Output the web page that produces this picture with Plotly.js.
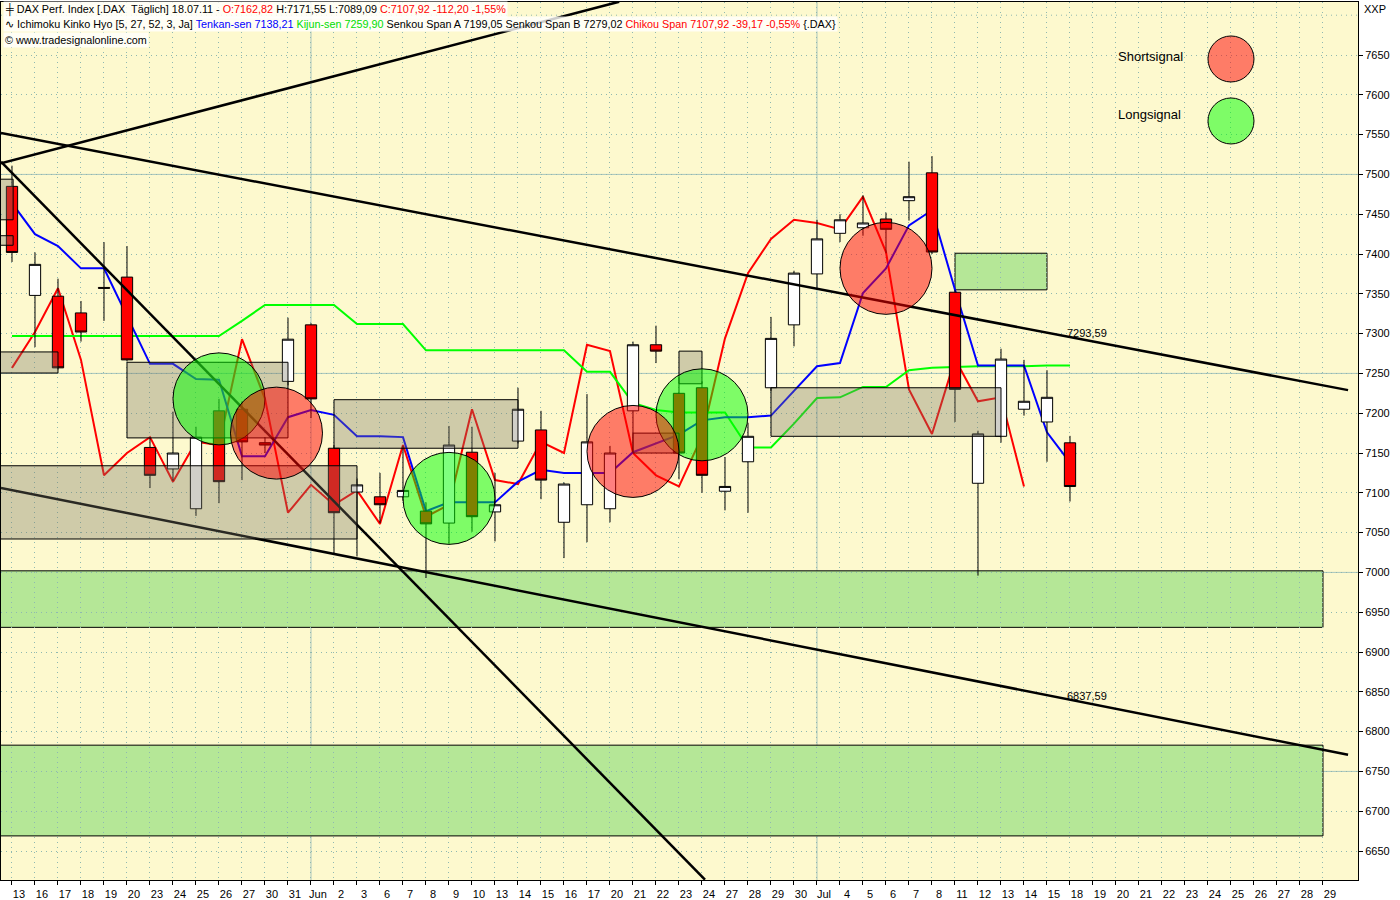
<!DOCTYPE html>
<html><head><meta charset="utf-8">
<script src="https://cdn.plot.ly/plotly-3.0.1.min.js"></script>
<style>html,body{margin:0;padding:0;background:#fff}#chart{width:1400px;height:900px}</style>
</head><body><div id="chart"></div>
<script>
// ---------- DATA ----------
const dayLabels = ['13','16','17','18','19','20','23','24','25','26','27','30','31',
  'Jun','2','3','6','7','8','9','10','13','14','15','16','17','20','21','22','23','24','27','28','29','30',
  'Jul','4','5','6','7','8','11','12','13','14','15','18','19','20','21','22','23','24','25','26','27','28','29'];
const priceTicks = [6650,6700,6750,6800,6850,6900,6950,7000,7050,7100,7150,7200,7250,7300,7350,7400,7450,7500,7550,7600,7650];

const opens  = [7485,7348,7347,7326,7358,7371,7157,7130,7080,7203,7205,7163,7240,7311,7156,7101,7095,7095,7077,7062,
                7151,7076,7165,7179,7063,7085,7080,7203,7286,7225,7232,7102,7139,7232,7311,7375,7426,7433,7444,7467,
                7502,7352,7112,7171,7205,7189,7162.82];
const highs  = [7511,7402,7369,7341,7415,7410,7170,7202,7183,7218,7215,7170,7320,7313,7160,7118,7125,7159,7088,7184,
                7183,7125,7232,7203,7113,7224,7159,7290,7310,7245,7240,7145,7188,7321,7379,7443,7450,7474,7452,7516,
                7523,7355,7178,7281,7267,7254,7171.55];
const lows   = [7390,7283,7255,7290,7316,7265,7106,7115,7071,7087,7116,7150,7235,7194,7022,7020,7062,7090,6993,7036,
                7051,7039,7162,7092,7018,7038,7063,7151,7263,7117,7100,7078,7075,7228,7284,7355,7415,7423,7401,7442,
                7400,7189,6996,7163,7197,7139,7089.09];
const closes = [7402,7387,7257,7302,7357,7267,7122,7150,7170,7114,7164,7160,7293,7218,7075,7110,7085,7103,7061,7160,
                7070,7085,7205,7116,7111,7164,7150,7286,7278,7150,7122,7108,7171,7294,7376,7419,7443,7439,7431,7472,
                7402.5,7230,7174,7268,7215,7220,7107.92];

const tenkan = [7464,7425,7410,7382,7382,7322,7262,7262,7243,7242,
                7146,7146,7195,7204,7198,7171,7171,7170,7077,7088,
                7088,7088,7114,7129,7125,7125,7125,7151,7162,7173,
                7191,7195,7195,7197,7228,7259,7263,7351,7382,7436,
                7455,7355,7260,7260,7260,7176,7138];
const kijun  = [7297,7297,7297,7297,7297,7297,7297,7297,7297,7297,
                7316,7336,7336,7336,7336,7312,7312,7312,7279,7279,
                7279,7279,7279,7279,7279,7252,7252,7213,7204,7201,
                7201,7201,7157,7157,7187,7219,7220,7233,7233,7254,
                7257,7258,7259,7259,7259,7260,7260];
// Chikou span = closes plotted 2 bars back (as drawn in the chart)
const chikou = closes.slice(2);

// trend lines: [bar index, price] endpoints
const trendRiseX = [-0.48, 26.4],  trendRiseY = [7514, 7717];
const trendHiX   = [-0.48, 58.09], trendHiY   = [7552, 7229];
const trendLoX   = [-0.48, 58.09], trendLoY   = [7106, 6771];
const trendSteepX= [-0.48, 30.13], trendSteepY= [7516, 6614];
const trendLabels = [{idx:46, val:7293.59, text:'7293,59'}, {idx:46, val:6837.59, text:'6837,59'}];

// zones (bar index from/to, price from/to)
const grayZoneX0 = [-0.5, -0.5, -0.5, 5, -0.5, 14, 29, 27, 33];
const grayZoneX1 = [2, 0.05, 0.05, 12, 15, 22, 30, 29, 43];
const grayZoneY0 = [7250.5, 7443, 7411, 7169, 7042, 7156, 7237, 7150, 7171];
const grayZoneY1 = [7277, 7494, 7423, 7264, 7134, 7217, 7278, 7175, 7232];
const greenZoneX0 = [41, -0.5, -0.5];
const greenZoneX1 = [45, 57, 57];
const greenZoneY0 = [7355, 6931, 6669];
const greenZoneY1 = [7401, 7002, 6783];

// signals
const shortSigX = [11.5, 27, 38], shortSigY = [7175, 7152, 7382];
const longSigX  = [9, 19, 30],    longSigY  = [7218, 7093, 7198];

// ---------- CHART ----------
const idx = dayLabels.map((_, i) => i);
const barIdx = closes.map((_, i) => i);
const X_RANGE = [-0.478, 58.522];
const Y_RANGE = [6613.6, 7716.6];
const FONT = 'Liberation Sans, Arial, sans-serif';
const GRID = '#8fb8b0';
const DOTS = '1px,4px';
const SOLID = '#a9c5be';

const traces = [
  {x: chikou.map((_, i) => i), y: chikou, type:'scatter', mode:'lines', line:{color:'#ff0000', width:2}, xaxis:'x', yaxis:'y'},
  {x: barIdx, y: kijun, type:'scatter', mode:'lines', line:{color:'#00ff00', width:2}, xaxis:'x', yaxis:'y'},
  {x: barIdx, y: tenkan, type:'scatter', mode:'lines', line:{color:'#0000ff', width:2}, xaxis:'x', yaxis:'y'},
  {x: barIdx, open: opens, high: highs, low: lows, close: closes, type:'candlestick', xaxis:'x2', yaxis:'y2',
   whiskerwidth: 0,
   increasing:{line:{color:'#000000', width:1}, fillcolor:'#ffffff'},
   decreasing:{line:{color:'#000000', width:1}, fillcolor:'#ff0000'}},
  {x: trendRiseX, y: trendRiseY, type:'scatter', mode:'lines', line:{color:'#000', width:2.5}, xaxis:'x2', yaxis:'y2'},
  {x: trendHiX, y: trendHiY, type:'scatter', mode:'lines', line:{color:'#000', width:2.5}, xaxis:'x2', yaxis:'y2'},
  {x: trendLoX, y: trendLoY, type:'scatter', mode:'lines', line:{color:'#000', width:2.5}, xaxis:'x2', yaxis:'y2'},
  {x: trendSteepX, y: trendSteepY, type:'scatter', mode:'lines', line:{color:'#000', width:2.5}, xaxis:'x2', yaxis:'y2'}
];

const shapes = [];
greenZoneX0.forEach((_, i) => shapes.push({type:'rect', xref:'x', yref:'y', layer:'below',
  x0: greenZoneX0[i], x1: greenZoneX1[i], y0: greenZoneY0[i], y1: greenZoneY1[i],
  fillcolor:'#b5e797', line:{color:'#000', width:1}}));
[7500, 7250, 7000, 6750].forEach(v => shapes.push({type:'line', xref:'paper', yref:'y', layer:'below',
  x0:0, x1:1, y0:v, y1:v, line:{color:SOLID, width:1}}));
[13, 35].forEach(v => shapes.push({type:'line', xref:'x', yref:'paper', layer:'below',
  x0:v, x1:v, y0:0, y1:1, line:{color:SOLID, width:1}}));
shapes.push({type:'line', xref:'paper', yref:'y', layer:'below', x0:0, x1:1, y0:7700, y1:7700,
  line:{color:GRID, width:1, dash:DOTS}});
grayZoneX0.forEach((_, i) => shapes.push({type:'rect', xref:'x', yref:'y', layer:'above',
  x0: grayZoneX0[i], x1: grayZoneX1[i], y0: grayZoneY0[i], y1: grayZoneY1[i],
  fillcolor:'rgba(120,118,100,0.35)', line:{color:'#000', width:1}}));
function circle(xv, yv, col, xref, yref, r) {
  return {type:'circle', xref, yref, layer:'above', xsizemode:'pixel', ysizemode:'pixel',
    xanchor:xv, yanchor:yv, x0:-r, x1:r, y0:-r, y1:r, fillcolor:col, line:{color:'#000', width:1}};
}
longSigX.forEach((v, i) => shapes.push(circle(v, longSigY[i], 'rgba(0,255,0,0.5)', 'x', 'y', 46)));
shortSigX.forEach((v, i) => shapes.push(circle(v, shortSigY[i], 'rgba(255,0,0,0.5)', 'x', 'y', 46)));
shapes.push(circle(0.9064, 0.9351, 'rgba(255,0,0,0.5)', 'paper', 'paper', 23));
shapes.push(circle(0.9064, 0.8645, 'rgba(0,255,0,0.5)', 'paper', 'paper', 23));

const hdr = (text, yshift, bg) => ({xref:'paper', yref:'paper', x:0, y:1, xanchor:'left', yanchor:'middle',
  xshift:2, yshift, text, showarrow:false, align:'left', bgcolor:bg, borderpad:1,
  font:{family:FONT, size:10.8, color:'#000'}});
const annotations = [
  hdr('╪ DAX Perf. Index [.DAX  Täglich] 18.07.11 - <span style="color:#ff0000">O:7162,82</span> H:7171,55 L:7089,09 <span style="color:#ff0000">C:7107,92 -112,20 -1,55%</span>', -8, 'rgba(255,255,255,0.8)'),
  hdr('∿ Ichimoku Kinko Hyo [5, 27, 52, 3, Ja] <span style="color:#0000ff">Tenkan-sen 7138,21</span> <span style="color:#00dd00">Kijun-sen 7259,90</span> Senkou Span A 7199,05 Senkou Span B 7279,02 <span style="color:#ff0000">Chikou Span 7107,92 -39,17 -0,55%</span> {.DAX}', -22, 'rgba(255,255,255,0.8)'),
  hdr('© www.tradesignalonline.com', -38, 'rgba(255,255,255,0.8)'),
  {xref:'paper', yref:'paper', x:1, y:1, xanchor:'left', yanchor:'middle', xshift:4, yshift:-7,
   text:'XXP', showarrow:false, font:{family:FONT, size:11, color:'#000'}},
  {xref:'paper', yref:'paper', x:0.8217, y:0.9374, xanchor:'left', yanchor:'middle',
   text:'Shortsignal', showarrow:false, font:{family:FONT, size:13, color:'#000'}},
  {xref:'paper', yref:'paper', x:0.8217, y:0.8724, xanchor:'left', yanchor:'middle',
   text:'Longsignal', showarrow:false, font:{family:FONT, size:13, color:'#000'}}
];
trendLabels.forEach(t => annotations.push({xref:'x', yref:'y', x:t.idx, y:t.val, xanchor:'left', yanchor:'middle',
  xshift:-5, yshift:6, text:t.text, showarrow:false, font:{family:FONT, size:11, color:'#000'}}));

const layout = {
  width:1400, height:900,
  margin:{l:1, r:42, t:2, b:20},
  paper_bgcolor:'#ffffff', plot_bgcolor:'#fdf9ce',
  showlegend:false, hovermode:false,
  font:{family:FONT, size:11, color:'#000'},
  xaxis:{range:X_RANGE, autorange:false, tickmode:'array', tickvals:idx, ticktext:dayLabels,
    showgrid:true, gridcolor:GRID, griddash:DOTS, gridwidth:1, zeroline:false,
    ticks:'outside', ticklen:4, tickcolor:'#000', ticklabelshift:7, ticklabelstandoff:0,
    showline:true, mirror:true, linecolor:'#000', linewidth:1,
    tickfont:{family:FONT, size:11, color:'#000'}},
  yaxis:{range:Y_RANGE, autorange:false, side:'right', tickmode:'array', tickvals:priceTicks,
    ticktext:priceTicks.map(String),
    showgrid:true, gridcolor:GRID, griddash:DOTS, gridwidth:1, zeroline:false,
    ticks:'outside', ticklen:4, tickcolor:'#000',
    showline:true, mirror:true, linecolor:'#000', linewidth:1,
    tickfont:{family:FONT, size:11, color:'#000'}},
  xaxis2:{overlaying:'x', range:X_RANGE, autorange:false, visible:false, rangeslider:{visible:false}},
  yaxis2:{overlaying:'y', range:Y_RANGE, autorange:false, visible:false},
  shapes, annotations
};
Plotly.newPlot('chart', traces, layout, {staticPlot:true, displayModeBar:false});
</script></body></html>
